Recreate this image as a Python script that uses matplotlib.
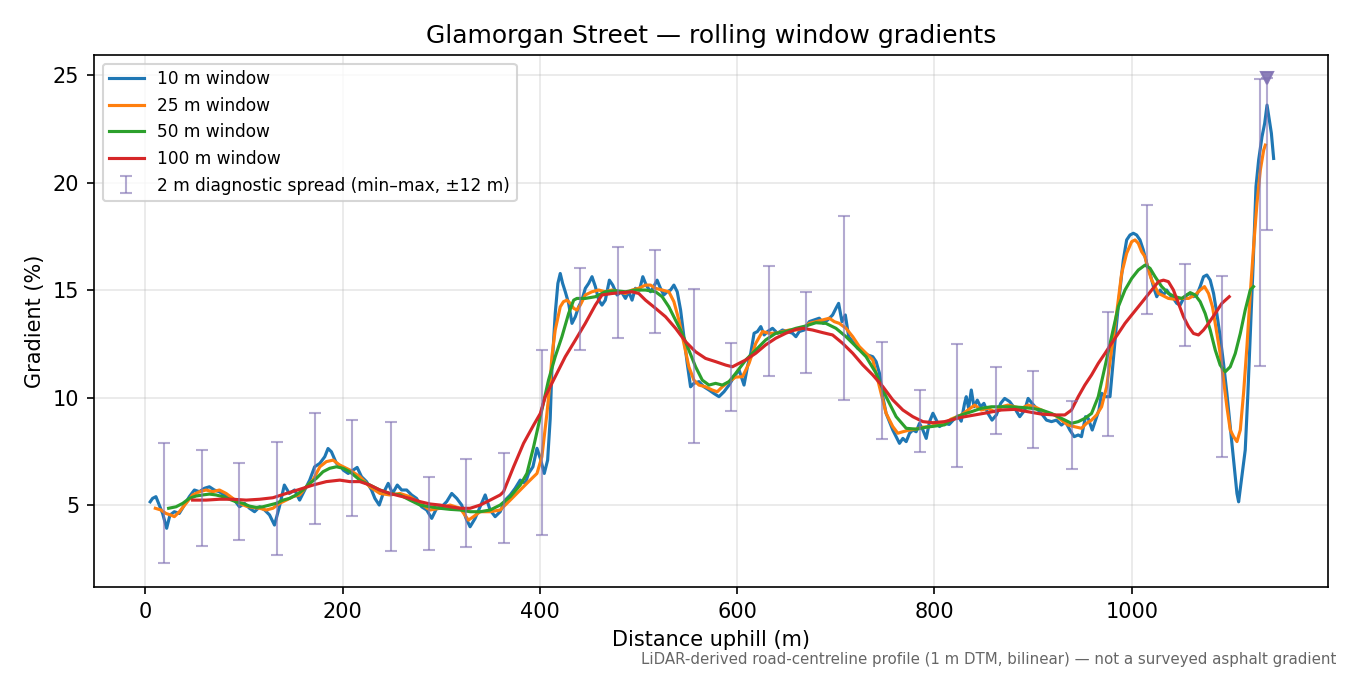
import matplotlib
matplotlib.use("Agg")
import matplotlib.pyplot as plt
import numpy as np

# distance (m) / gradient (%) pairs read for each rolling window
x10 = [5, 7.4, 10.8, 13.5, 17.6, 21.7, 25, 29.5, 34.5, 39.6, 44.7, 49.8, 54.9, 60, 65, 70, 75, 80, 85, 90.4,
       95.5, 100.6, 105.7, 110.8, 116, 121, 126, 131, 136, 141, 146, 151.4, 156.5, 161.6, 166.7, 171.7, 177,
       182, 185.3, 188.7, 193.8, 199, 200.6, 205.7, 210.8, 214.8, 219.2, 224.3, 229.4, 232.8, 237.2, 241.2,
       246.3, 250.7, 255.5, 259.9, 265, 270, 275, 280.2, 285.3, 290.4, 295.4, 300.5, 305.6, 310.7, 315.8,
       320.8, 325.2, 329.3, 334.4, 339.5, 344.6, 349.6, 354.7, 359.8, 364.9, 370, 375, 380.1, 385.2, 388.6,
       393, 397.1, 400.5, 404.5, 407.9, 410.5, 412.2, 415.6, 418.3, 420.7, 423.1, 425.8, 429.2, 432.6, 436,
       439.3, 442.7, 446.1, 449.5, 452.9, 456.3, 459.7, 463, 466.4, 470.5, 473.9, 478.3, 482.7, 486.8, 490.2,
       493.5, 496.9, 501, 504.4, 507.8, 512.2, 515.5, 518.9, 522.3, 525.7, 529.1, 532.5, 535.9, 539.3, 542.7,
       546, 549.4, 552.8, 556.2, 561.3, 566.4, 571.5, 576.5, 581.6, 586.7, 591.8, 596.9, 602, 607, 610.5,
       613.8, 617.2, 620.6, 624, 627.4, 630.8, 635.9, 640.9, 646, 651.1, 656.2, 659.6, 663, 668, 673.1, 678.2,
       683.3, 687.4, 691.8, 696.8, 700.2, 702.9, 706.3, 709.7, 713.1, 717.2, 722.2, 727.3, 732.4, 737.5,
       740.9, 744.3, 747.7, 751, 754.4, 757.8, 761.2, 764.6, 768, 771.4, 774.8, 778.1, 781.5, 784.9, 788.3,
       791.7, 795.1, 798.5, 801.9, 805.2, 810.3, 815, 820, 824, 827.2, 830.6, 832.3, 834.7, 837.4, 840.1,
       843.5, 846.8, 850.2, 854.3, 858.4, 862.8, 867.2, 871.2, 876.3, 881.4, 886.5, 891.6, 895, 899, 903.4,
       908.5, 913.6, 918.7, 923.7, 928.8, 932.9, 937.3, 941.7, 945.8, 949.1, 953.2, 955.9, 960, 963.4, 966.8,
       969.5, 973.5, 978, 981.3, 984.7, 988.1, 991.5, 994.9, 998.3, 1001.7, 1005, 1008.4, 1011.8, 1015.2,
       1018.6, 1022, 1025.4, 1028.8, 1032.2, 1035.5, 1038.9, 1042.3, 1045.7, 1049.1, 1052.5, 1055.9, 1059.3,
       1062.6, 1066, 1069.4, 1072.8, 1076.2, 1079.6, 1083, 1086.3, 1089.7, 1093.1, 1096.5, 1099.9, 1103.3,
       1106.7, 1108.4, 1111.7, 1115.1, 1117.8, 1120.6, 1123.3, 1126, 1128.7, 1132.1, 1134.8, 1137.2, 1139.5,
       1141.6, 1143.9]
g10 = [5.15, 5.31, 5.39, 5.08, 4.61, 3.92, 4.53, 4.69, 4.61, 5.0, 5.39, 5.7, 5.62, 5.78, 5.85, 5.7, 5.62, 5.47,
       5.39, 5.23, 4.92, 5.08, 4.85, 4.69, 4.92, 4.77, 4.54, 4.07, 4.92, 5.93, 5.54, 5.7, 5.23, 5.7, 6.16, 6.78,
       6.94, 7.25, 7.63, 7.48, 6.94, 6.78, 6.63, 6.47, 6.63, 6.75, 6.32, 6.09, 5.7, 5.31, 5.0, 5.54, 6.01, 5.54,
       5.93, 5.7, 5.7, 5.47, 5.31, 4.92, 4.77, 4.38, 4.85, 4.92, 5.16, 5.54, 5.31, 5.0, 4.38, 3.99, 4.38, 4.92,
       5.47, 4.77, 4.46, 4.69, 5.23, 5.47, 5.78, 6.16, 6.01, 6.47, 6.78, 7.64, 7.17, 6.47, 7.09, 9.0, 11.28,
       13.91, 15.31, 15.77, 15.31, 14.92, 14.38, 13.45, 13.76, 14.22, 14.53, 15.08, 15.31, 15.62, 15.16, 14.53,
       14.3, 14.53, 15.46, 15.23, 14.77, 14.92, 14.61, 14.92, 14.53, 15.08, 15.0, 15.62, 15.23, 14.92, 15.16,
       15.46, 15.08, 14.77, 14.92, 15.0, 15.23, 14.92, 14.07, 12.83, 11.59, 10.5, 10.66, 10.74, 10.5, 10.35,
       10.19, 10.04, 10.27, 10.58, 10.97, 11.28, 10.58, 11.44, 12.06, 12.99, 13.07, 13.3, 12.91, 13.07, 13.22,
       12.99, 13.14, 13.07, 12.99, 12.83, 13.07, 13.14, 13.53, 13.61, 13.69, 13.45, 13.61, 13.84, 14.15, 14.38,
       13.53, 13.84, 12.83, 12.6, 12.29, 12.14, 11.98, 11.9, 11.67, 11.13, 10.04, 9.27, 8.88, 8.49, 8.18, 7.87,
       8.1, 7.95, 8.34, 8.49, 8.41, 8.8, 8.49, 8.1, 8.88, 9.27, 8.96, 8.65, 8.8, 8.75, 9.0, 9.15, 8.9, 9.73,
       10.04, 9.5, 10.35, 9.57, 9.88, 9.57, 9.73, 9.26, 8.95, 9.19, 9.73, 9.96, 9.81, 9.5, 9.11, 9.42, 9.96,
       9.73, 9.5, 9.26, 8.95, 8.88, 8.95, 8.72, 8.88, 8.49, 8.18, 8.26, 8.18, 9.11, 9.03, 8.49, 8.95, 9.42,
       10.2, 10.04, 10.04, 11.74, 13.45, 15.0, 16.4, 17.33, 17.56, 17.64, 17.56, 17.33, 16.86, 16.24, 15.77,
       15.16, 14.69, 15.0, 14.77, 15.0, 14.77, 14.61, 14.38, 14.3, 14.61, 14.77, 14.84, 14.69, 14.77, 15.16,
       15.62, 15.7, 15.46, 14.84, 13.91, 12.83, 11.59, 10.2, 8.64, 7.09, 5.54, 5.15, 6.32, 7.56, 10.2, 13.3,
       16.4, 19.81, 21.05, 22.13, 22.75, 23.6, 22.91, 22.29, 21.12]

x25 = [10.2, 15.9, 21, 26.1, 29.5, 34.6, 41.3, 48.1, 54.9, 61.7, 68.4, 75.2, 82, 88.8, 95.5, 102.3, 109, 116,
       122.6, 129.4, 136.2, 143, 149.7, 156.5, 163.3, 170, 177, 183.6, 190.4, 197.2, 207.4, 217.5, 227.7,
       237.8, 248, 258.2, 268.3, 278.5, 288.7, 298.8, 309, 319.2, 327.6, 332.7, 339.5, 349.6, 359.8, 370,
       380.1, 388.6, 397.1, 402.1, 407.2, 410.6, 412.2, 415.6, 420.7, 424, 427.5, 430.9, 434.3, 437.6, 441,
       446.1, 452.9, 459.7, 466.4, 473.2, 480, 486.8, 493.5, 500.3, 507.1, 512.2, 517.3, 524, 530.8, 535.9,
       541, 546, 551.1, 556.2, 561.3, 568, 574.8, 579.9, 585, 591.8, 598.5, 605.4, 612.1, 618.9, 625.7,
       632.5, 639.2, 646, 652.8, 659.6, 666.4, 673.1, 679.9, 686.7, 693.5, 698.5, 703.6, 710.4, 717.2,
       723.9, 730.7, 737.5, 744.3, 751, 757.8, 762.9, 768, 774.8, 781.5, 788.3, 795.1, 801.9, 810.3, 817,
       827.2, 834, 840.8, 847.5, 854.3, 861.1, 867.9, 874.6, 881.4, 888.2, 895, 901.7, 908.5, 915.3, 922,
       928.8, 935.6, 942.4, 949.1, 954.2, 959.3, 964.4, 969.5, 974.6, 979.6, 984.7, 989.8, 994.9, 1000,
       1003.4, 1006.7, 1010.1, 1013.5, 1016.9, 1020.3, 1023.7, 1027.1, 1030.4, 1037.2, 1044, 1050.8, 1057.6,
       1064.3, 1069.4, 1073.8, 1077.9, 1081.9, 1086.3, 1089.7, 1093.1, 1096.5, 1099.9, 1103.3, 1106.7,
       1110.1, 1113.4, 1116.8, 1120.2, 1123.6, 1127, 1130.4, 1133.8, 1135.5]
g25 = [4.85, 4.77, 4.61, 4.53, 4.46, 4.69, 5.08, 5.47, 5.62, 5.7, 5.62, 5.7, 5.54, 5.31, 5.08, 4.95, 4.89, 4.85,
       4.77, 4.85, 5.08, 5.23, 5.39, 5.47, 5.85, 6.16, 6.78, 7.02, 7.09, 6.86, 6.63, 6.32, 5.85, 5.54, 5.47,
       5.54, 5.39, 5.08, 4.77, 4.85, 5.0, 4.85, 4.3, 4.46, 4.69, 4.69, 4.77, 5.23, 5.7, 6.09, 6.47, 7.25, 9.26,
       10.82, 11.9, 13.14, 14.22, 14.46, 14.53, 14.38, 14.15, 14.07, 14.3, 14.77, 14.92, 15.0, 14.92, 15.0,
       14.92, 14.84, 15.0, 15.08, 15.23, 15.23, 15.08, 15.0, 14.92, 14.46, 13.6, 12.52, 11.43, 10.81, 10.58,
       10.5, 10.35, 10.27, 10.5, 10.74, 10.95, 10.97, 11.59, 12.52, 13.07, 12.99, 12.99, 13.07, 13.14, 13.14,
       13.22, 13.45, 13.53, 13.61, 13.69, 13.53, 13.45, 13.22, 12.83, 12.37, 12.06, 11.75, 10.51, 9.27, 8.65,
       8.34, 8.41, 8.49, 8.53, 8.62, 8.65, 8.73, 8.8, 9.0, 9.19, 9.42, 9.65, 9.42, 9.5, 9.34, 9.57, 9.65, 9.57,
       9.5, 9.65, 9.57, 9.42, 9.26, 9.19, 8.95, 8.72, 8.64, 8.57, 8.8, 8.95, 9.19, 9.57, 10.5, 12.21, 13.91,
       15.77, 16.71, 17.25, 17.33, 17.17, 16.78, 16.55, 15.93, 15.46, 15.16, 14.84, 14.77, 14.61, 14.57,
       14.61, 14.61, 14.77, 15.0, 15.16, 14.84, 14.22, 12.98, 12.05, 10.81, 9.57, 8.49, 8.18, 7.95, 8.49,
       10.2, 12.36, 14.84, 17.02, 19.03, 20.58, 21.51, 21.74]

x50 = [23.7, 31.2, 38, 44.7, 51.5, 58.3, 65, 71.8, 78.6, 85.4, 92.1, 98.9, 105.7, 112.5, 119.2, 126, 132.8,
       139.6, 146.3, 153.1, 159.9, 166.7, 173.4, 180.2, 187, 193.8, 200.5, 207.4, 217.5, 227.7, 237.8, 248,
       258.2, 268.3, 278.5, 288.7, 298.8, 309, 319.2, 329.3, 339.5, 349.6, 359.8, 370, 380.1, 386.9, 393.7,
       400.5, 408.8, 415.6, 422.4, 429.2, 434.3, 437.6, 446.1, 456.3, 466.4, 476.6, 486.8, 496.9, 507.1,
       517.3, 524, 530.8, 537.6, 544.3, 551.1, 557.9, 564.7, 571.5, 578.2, 585, 591.8, 598.5, 608.8, 618.9,
       629, 639.2, 649.4, 659.6, 669.7, 679.9, 690, 700.2, 710.4, 720.6, 730.7, 740.9, 751, 761.2, 771.4,
       781.5, 791.7, 801.9, 810.3, 817, 827.2, 837.4, 847.5, 857.7, 867.9, 878, 888.2, 898.3, 908.5, 918.7,
       928.8, 939, 945.8, 952.5, 959.3, 966.1, 972.9, 979.6, 986.4, 993.2, 1000, 1006.7, 1013.5, 1018.6,
       1023.7, 1030.4, 1037.2, 1044, 1050.8, 1059.3, 1064.3, 1069.4, 1074.5, 1079.6, 1084.7, 1089.7, 1094.8,
       1099.9, 1105, 1110.1, 1115.1, 1120.2, 1123.5]
g50 = [4.85, 4.92, 5.08, 5.31, 5.42, 5.47, 5.51, 5.47, 5.39, 5.27, 5.15, 5.08, 4.95, 4.89, 4.92, 5.0, 5.08,
       5.23, 5.31, 5.47, 5.7, 6.01, 6.24, 6.55, 6.71, 6.78, 6.71, 6.55, 6.16, 5.93, 5.7, 5.54, 5.47, 5.23, 5.0,
       4.92, 4.85, 4.8, 4.77, 4.69, 4.69, 4.77, 5.0, 5.39, 5.93, 6.47, 7.71, 9.11, 10.81, 11.9, 12.83, 13.91,
       14.53, 14.61, 14.61, 14.69, 14.92, 14.97, 14.92, 15.0, 15.0, 14.92, 14.69, 14.22, 13.6, 12.98, 12.21,
       11.43, 10.81, 10.58, 10.66, 10.58, 10.74, 11.12, 11.75, 12.21, 12.68, 12.99, 13.07, 13.22, 13.33,
       13.48, 13.45, 13.22, 12.83, 12.37, 11.9, 11.13, 10.04, 9.11, 8.57, 8.53, 8.62, 8.68, 8.73, 8.95, 9.19,
       9.34, 9.5, 9.57, 9.57, 9.57, 9.54, 9.5, 9.42, 9.26, 9.03, 8.8, 8.88, 9.03, 9.26, 10.04, 11.43, 12.83,
       14.22, 15.0, 15.54, 15.93, 16.16, 16.01, 15.62, 15.16, 14.84, 14.69, 14.61, 14.88, 14.77, 14.46, 13.91,
       13.14, 12.21, 11.51, 11.2, 11.43, 12.05, 12.98, 14.07, 15.0, 15.16]

x100 = [48, 54.9, 61.7, 75.2, 88.8, 102.3, 116, 129.4, 143, 156.5, 170, 183.6, 197.2, 207.4, 217.5, 227.7,
        237.8, 248, 258.2, 268.3, 278.5, 288.7, 298.8, 309, 319.2, 329.3, 339.5, 349.6, 359.8, 363.2, 373.4,
        383.5, 393.7, 400.5, 405.5, 415.6, 425.8, 436, 446.1, 456.3, 463, 473.2, 483.4, 493.5, 500.3, 507.1,
        517.3, 527.4, 537.6, 547.7, 557.9, 568, 578.2, 588.4, 595.2, 601.9, 608.8, 618.9, 629, 639.2, 649.4,
        659.6, 666.4, 676.5, 686.7, 696.8, 707, 717.2, 727.3, 737.5, 747.7, 757.8, 768, 778.1, 788.3, 798.5,
        810.3, 827.2, 840.8, 854.3, 867.9, 881.4, 895, 908.5, 922, 932.2, 939, 945.8, 952.5, 959.3, 966.1,
        972.9, 979.6, 986.4, 993.2, 1000, 1006.7, 1013.5, 1020.3, 1027.1, 1032.2, 1037.2, 1042.3, 1047.4,
        1052.5, 1057.6, 1062.6, 1067.7, 1072.8, 1077.9, 1084.7, 1091.4, 1098.9]
g100 = [5.23, 5.23, 5.23, 5.27, 5.27, 5.23, 5.27, 5.34, 5.54, 5.73, 5.93, 6.09, 6.16, 6.09, 6.09, 5.93, 5.7,
        5.54, 5.42, 5.31, 5.16, 5.05, 5.0, 4.92, 4.85, 4.85, 5.0, 5.23, 5.47, 5.62, 6.78, 7.87, 8.72, 9.26,
        10.04, 10.97, 11.9, 12.67, 13.45, 14.3, 14.77, 14.84, 14.88, 14.92, 14.84, 14.53, 14.15, 13.76, 13.22,
        12.6, 12.13, 11.82, 11.67, 11.51, 11.43, 11.59, 11.75, 12.06, 12.45, 12.76, 12.99, 13.17, 13.22,
        13.14, 13.02, 12.91, 12.52, 12.06, 11.52, 11.05, 10.51, 9.89, 9.42, 9.11, 8.88, 8.83, 8.88, 9.08,
        9.19, 9.3, 9.42, 9.45, 9.34, 9.23, 9.19, 9.19, 9.42, 10.04, 10.58, 11.05, 11.59, 12.05, 12.52, 12.98,
        13.45, 13.84, 14.22, 14.61, 15.0, 15.39, 15.46, 15.39, 15.0, 14.38, 13.76, 13.3, 12.98, 12.91, 13.14,
        13.45, 13.91, 14.38, 14.69]

# 2 m diagnostic spread (min-max within +-12 m)
spread_x = [19, 58, 95, 134, 172, 210, 249, 288, 325, 364, 402, 441, 479, 517, 556, 594, 632, 670, 708, 747,
            785, 823, 862, 900, 939, 976, 1016, 1054, 1092, 1130, 1137]
spread_lo = [2.32, 3.11, 3.39, 2.69, 4.12, 4.5, 2.88, 2.91, 3.06, 3.22, 3.62, 12.22, 12.78, 13.01, 7.9, 9.37,
             11.02, 11.16, 9.89, 8.06, 7.45, 6.78, 8.32, 7.67, 6.69, 8.22, 13.88, 12.41, 7.25, 11.48, 17.79]
spread_hi = [7.9, 7.56, 6.97, 7.93, 9.28, 8.95, 8.86, 6.32, 7.14, 7.43, 12.21, 16.04, 17.01, 16.86, 15.05,
             12.55, 16.12, 14.93, 18.46, 12.6, 10.35, 12.5, 11.42, 11.23, 9.84, 13.98, 18.95, 16.22, 15.65,
             24.81, 27.5]
clip_top = 24.85

fig, ax = plt.subplots(figsize=(9, 4.5), dpi=150)

ax.plot(x10, g10, color="tab:blue", lw=1.5, label="10 m window")
ax.plot(x25, g25, color="tab:orange", lw=1.5, label="25 m window")
ax.plot(x50, g50, color="tab:green", lw=1.5, label="50 m window")
ax.plot(x100, g100, color="tab:red", lw=1.5, label="100 m window")

sx = np.array(spread_x, dtype=float)
lo = np.array(spread_lo)
hi = np.minimum(np.array(spread_hi), clip_top)
mid = (lo + hi) / 2
ax.errorbar(sx, mid, yerr=[mid - lo, hi - mid], fmt="none", ecolor="#8172b3", alpha=0.6,
            elinewidth=1.0, capsize=3, label="2 m diagnostic spread (min–max, ±12 m)")
over = np.array(spread_hi) > clip_top
ax.plot(sx[over], hi[over], linestyle="none", marker="v", markersize=6, color="#8172b3", alpha=0.9)

ax.set_xlim(-52, 1199)
ax.set_ylim(1.19, 25.93)
ax.grid(True, alpha=0.3)
ax.set_xlabel("Distance uphill (m)")
ax.set_ylabel("Gradient (%)")
ax.set_title("Glamorgan Street — rolling window gradients")
ax.legend(loc="upper left", fontsize=8.2)

fig.text(0.99, 0.012, "LiDAR-derived road-centreline profile (1 m DTM, bilinear) — not a surveyed asphalt gradient",
         ha="right", va="bottom", fontsize=7.2, color="#666666")

fig.subplots_adjust(left=0.0696, right=0.9837, top=0.9185, bottom=0.1304)
fig.savefig("out.png", dpi=150)
